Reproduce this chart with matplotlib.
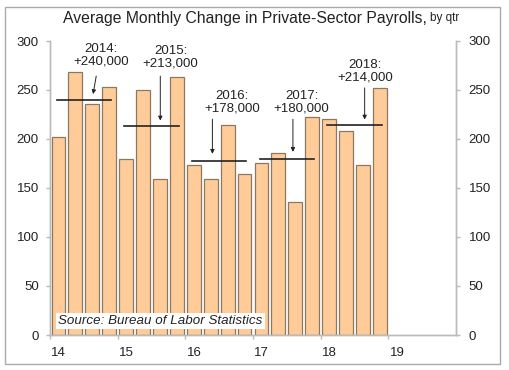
import numpy as np
import matplotlib.pyplot as plt
from matplotlib.patches import Rectangle

plt.rcParams['font.family'] = ['Liberation Sans', 'DejaVu Sans']

# quarterly average monthly change, thousands
quarters = ['14Q1', '14Q2', '14Q3', '14Q4', '15Q1', '15Q2', '15Q3', '15Q4',
            '16Q1', '16Q2', '16Q3', '16Q4', '17Q1', '17Q2', '17Q3', '17Q4',
            '18Q1', '18Q2', '18Q3', '18Q4']
payrolls = [202, 268, 236, 253, 180, 250, 159, 263,
            173, 159, 214, 164, 175, 186, 136, 222,
            220, 208, 173, 252]

years = [2014, 2015, 2016, 2017, 2018]
year_avg = [240, 213, 178, 180, 214]
year_labels = ['2014:\n+240,000', '2015:\n+213,000', '2016:\n+178,000',
               '2017:\n+180,000', '2018:\n+214,000']
# label position (x, y) and arrow start/end
label_pos = [(14.76, 273), (15.78, 271), (16.69, 225), (17.72, 225), (18.66, 257)]
arrow_from = [(14.69, 267), (15.63, 267), (16.40, 223), (17.59, 223), (18.65, 255)]
arrow_to = [(14.63, 243), (15.63, 216), (16.40, 182), (17.59, 184), (18.65, 217)]

xticks = [14, 15, 16, 17, 18, 19]

fig = plt.figure(figsize=(5.1, 3.7), dpi=100)
ax = fig.add_axes([50 / 510, 1 - 335 / 370, 406 / 510, 294 / 370])

x = 14 + np.arange(len(payrolls)) / 4 + 0.125
ax.bar(x, payrolls, width=0.205, color='#FFCC99', edgecolor='#8C7860', linewidth=0.9)

for yr, avg in zip(years, year_avg):
    ax.plot([yr - 2000 + 0.1, yr - 2000 + 0.9], [avg, avg], color='#222222', lw=1.2)

for lab, lp, a0, a1 in zip(year_labels, label_pos, arrow_from, arrow_to):
    ax.text(lp[0], lp[1], lab, ha='center', va='bottom', fontsize=9.5,
            color='#222222', linespacing=1.05)
    ax.annotate('', xy=a1, xytext=a0,
                arrowprops=dict(arrowstyle='-|>', color='#222222', lw=0.7,
                                mutation_scale=6))

ax.text(14.12, 14, 'Source: Bureau of Labor Statistics', fontsize=9.6,
        style='italic', va='center', ha='left', color='#222222',
        bbox=dict(facecolor='white', edgecolor='none', pad=1.5))

ax.set_xlim(14, 20)
ax.set_ylim(0, 300)
ax.set_yticks(range(0, 301, 50))
ax.set_xticks(xticks)
ax.set_xticklabels([])
for t in xticks:
    ax.text(t + 0.13, -12, str(t), ha='center', va='top', fontsize=9.5, color='#222222')

ax2 = ax.twinx()
ax2.set_ylim(0, 300)
ax2.set_yticks(range(0, 301, 50))

for a in (ax, ax2):
    a.spines['top'].set_visible(False)
    for s in ('left', 'right', 'bottom'):
        a.spines[s].set_color('#BBBBBB')
        a.spines[s].set_linewidth(1.0)
    a.tick_params(axis='both', colors='#BBBBBB', labelcolor='#222222',
                  labelsize=9.5, length=3, direction='out', width=1.0)
ax.tick_params(axis='y', pad=5)
ax2.tick_params(axis='y', pad=6)

fig.text(427 / 510, 1 - 18 / 370, 'Average Monthly Change in Private-Sector Payrolls,',
         ha='right', va='center', fontsize=11.3, color='#222222')
fig.text(430 / 510, 1 - 18.5 / 370, 'by qtr', ha='left', va='center',
         fontsize=8.5, color='#222222')

fig.patches.append(Rectangle((5 / 510, 1 - 364 / 370), 495 / 510, 357 / 370,
                             transform=fig.transFigure, fill=False,
                             edgecolor='#AAAAAA', lw=1.0))

fig.savefig('out.png', dpi=100)
